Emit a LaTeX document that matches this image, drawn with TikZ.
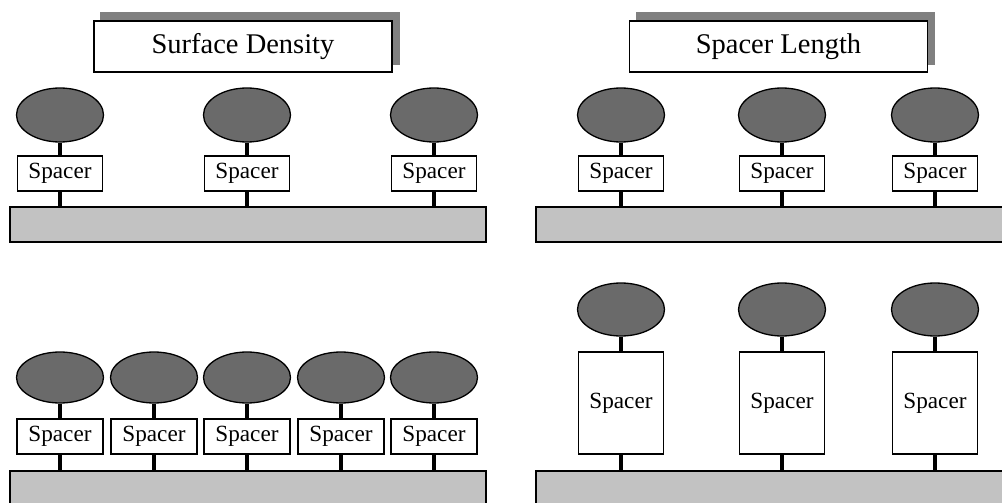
\documentclass[tikz,border=0pt]{standalone}
\usepackage{fontspec}
\setmainfont{Liberation Serif}
\usetikzlibrary{backgrounds,shapes.geometric}
\definecolor{headgray}{HTML}{6A6A6A}
\definecolor{bargray}{HTML}{C2C2C2}
\definecolor{shadowgray}{HTML}{808080}
\tikzset{
  head/.style={ellipse, draw=black, line width=1.3pt, fill=headgray, minimum width=87pt, minimum height=54pt, inner sep=0pt},
  headlow/.style={head, minimum height=51pt},
  spacerbox/.style={rectangle, draw=black, line width=1.7pt, fill=white, minimum width=85pt, minimum height=35pt, inner sep=0pt, font=\fontsize{23.2}{25}\selectfont},
  tallbox/.style={spacerbox, minimum height=102pt},
  surface/.style={rectangle, draw=black, line width=1.7pt, fill=bargray, inner sep=0pt},
  titlebox/.style={rectangle, draw=black, line width=1.7pt, fill=white, minimum width=298pt, minimum height=51pt, inner sep=0pt, font=\fontsize{28.5}{31}\selectfont},
  stem/.style={line width=3.8pt, black}
}
\begin{document}
\begin{tikzpicture}[x=1pt,y=-1pt]
\useasboundingbox (0,0) rectangle (1002,503);
\clip (0,0) rectangle (1002,503);

% ---------- titles ----------
\node[titlebox] (t1) at (243,46.5) {Surface Density};
\node[titlebox] (t2) at (778.5,46.5) {Spacer Length};
\begin{scope}[on background layer]
  \fill[shadowgray] ([shift={(7,-8)}]t1.south west) rectangle ([shift={(7,-8)}]t1.north east);
  \fill[shadowgray] ([shift={(7,-8)}]t2.south west) rectangle ([shift={(7,-8)}]t2.north east);
\end{scope}

% ---------- top left ----------
\node[surface, minimum width=476pt, minimum height=35pt] (barA) at (248,224.5) {};
\foreach \i/\x in {1/60,2/247,3/434}{
  \node[head] (ha\i) at (\x,115) {};
  \node[spacerbox] (sa\i) at (\x,173.5) {Spacer};
  \draw[stem] (ha\i.south) -- (sa\i.north);
  \draw[stem] (sa\i.south) -- (sa\i.south |- barA.north);
}

% ---------- top right ----------
\node[surface, minimum width=480pt, minimum height=35pt] (barB) at (776,224.5) {};
\foreach \i/\x in {1/621,2/782,3/935}{
  \node[head] (hb\i) at (\x,115) {};
  \node[spacerbox] (sb\i) at (\x,173.5) {Spacer};
  \draw[stem] (hb\i.south) -- (sb\i.north);
  \draw[stem] (sb\i.south) -- (sb\i.south |- barB.north);
}

% ---------- bottom left ----------
\node[surface, minimum width=476pt, minimum height=50pt] (barC) at (248,496) {};
\foreach \i/\x in {1/60,2/154,3/247,4/341,5/434}{
  \node[headlow] (hc\i) at (\x,377.5) {};
  \node[spacerbox, minimum width=86pt] (sc\i) at (\x,436.5) {Spacer};
  \draw[stem] (hc\i.south) -- (sc\i.north);
  \draw[stem] (sc\i.south) -- (sc\i.south |- barC.north);
}

% ---------- bottom right ----------
\node[surface, minimum width=480pt, minimum height=50pt] (barD) at (776,496) {};
\foreach \i/\x in {1/621,2/782,3/935}{
  \node[head, minimum height=53pt] (hd\i) at (\x,309.5) {};
  \node[tallbox] (sd\i) at (\x,403) {Spacer};
  \draw[stem] (hd\i.south) -- (sd\i.north);
  \draw[stem] (sd\i.south) -- (sd\i.south |- barD.north);
}
\end{tikzpicture}
\end{document}
